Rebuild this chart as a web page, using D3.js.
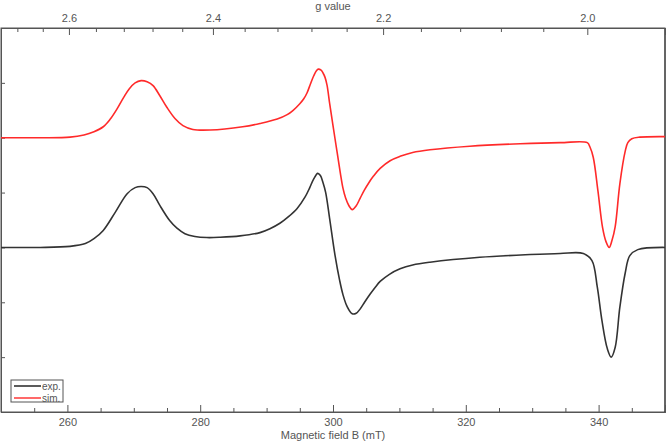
<!DOCTYPE html>
<meta charset="utf-8">
<style>
  body { margin: 0; background: #fff; }
  text { font-family: "Liberation Sans", Arial, sans-serif; fill: #555; }
  .axis path, .axis line { stroke: #555; }
</style>
<body>
<script src="https://d3js.org/d3.v7.min.js"></script>
<script>
// magnetic field (mT) and intensities relative to each trace's baseline
var simField = [250.0, 255.9, 260.4, 262.5, 264.0, 265.4, 266.4, 267.5, 268.5, 269.3, 270.2, 271.1, 272.0,
  272.9, 273.9, 275.0, 276.2, 277.4, 278.9, 281.5, 286.4, 289.0, 291.6, 293.1, 294.0, 295.0, 295.6, 296.1,
  296.6, 297.1, 297.5, 297.8, 298.2, 298.5, 298.8, 299.1, 299.5, 300.0, 300.6, 301.1, 301.5, 301.9, 302.4,
  302.9, 303.5, 304.1, 304.7, 305.4, 306.1, 307.1, 308.6, 310.1, 312.0, 314.6, 320.6, 328.2, 334.2, 338.3,
  338.7, 339.2, 339.9, 340.6, 341.1, 341.6, 342.0, 342.5, 343.2, 344.0, 344.4, 345.0, 346.2, 350.0];
var simValue = [0, 0, 0.01, 0.05, 0.11, 0.20, 0.33, 0.53, 0.74, 0.89, 1.00, 1.04, 1.02,
  0.95, 0.77, 0.55, 0.35, 0.22, 0.15, 0.14, 0.20, 0.26, 0.34, 0.42, 0.50, 0.62, 0.71, 0.82,
  0.98, 1.13, 1.22, 1.25, 1.23, 1.18, 1.10, 0.96, 0.62, 0.22, -0.25, -0.64, -0.92, -1.10, -1.24,
  -1.31, -1.24, -1.10, -0.96, -0.82, -0.70, -0.56, -0.42, -0.34, -0.27, -0.22, -0.155, -0.11, -0.09, -0.09,
  -0.17, -0.36, -0.97, -1.64, -1.89, -2.0, -1.88, -1.62, -0.84, -0.25, -0.09, -0.02, 0.01, 0.02];

var expField = [250.0, 255.9, 260.4, 262.7, 264.0, 265.4, 267.2, 269.0, 270.2, 271.1, 272.0, 272.9, 273.9,
  275.4, 276.5, 277.7, 279.2, 281.0, 283.0, 286.0, 289.0, 290.5, 292.0, 293.3, 294.6, 295.8, 296.5, 297.1,
  297.7, 298.1, 298.5, 298.9, 299.5, 300.3, 301.0, 301.5, 302.1, 302.9, 303.5, 304.1, 304.8, 305.6, 306.4,
  307.1, 308.5, 310.1, 312.0, 314.6, 322.1, 329.7, 334.2, 337.7, 339.0, 339.8, 340.5, 341.3, 341.9, 342.5,
  343.2, 344.0, 344.7, 345.9, 350.0];
var expValue = [0, 0, 0.02, 0.07, 0.16, 0.31, 0.64, 0.98, 1.09, 1.11, 1.09, 0.98, 0.77,
  0.49, 0.35, 0.25, 0.20, 0.18, 0.185, 0.21, 0.27, 0.34, 0.44, 0.56, 0.71, 0.92, 1.09, 1.25,
  1.35, 1.31, 1.18, 1.00, 0.52, -0.14, -0.60, -0.86, -1.07, -1.21, -1.20, -1.12, -0.99, -0.85, -0.72,
  -0.62, -0.49, -0.39, -0.32, -0.27, -0.18, -0.13, -0.11, -0.11, -0.24, -0.72, -1.33, -1.84, -2.00, -1.82,
  -1.09, -0.47, -0.15, -0.04, 0];

var simOffset = 5, expOffset = 3;

// axis ticks
var fieldMajor = [260, 280, 300, 320, 340];
var fieldMinor = [255, 265, 270, 275, 285, 290, 295, 305, 310, 315, 325, 330, 335, 345];
var gMajor = [2.6, 2.4, 2.2, 2.0];
var gMinor = [2.68, 2.64, 2.56, 2.52, 2.48, 2.44, 2.36, 2.32, 2.28, 2.24, 2.16, 2.12, 2.08, 2.04];
var yTicks = [1, 2, 3, 4, 5, 6];
var hvOverMuB = 676.6; // mT, B = hv/(g muB)

var margin = {top: 28, right: 1, bottom: 30, left: 1},
    width = 666 - margin.left - margin.right,
    height = 442 - margin.top - margin.bottom;

var x = d3.scaleLinear().domain([250, 350]).range([0, width]);
var y = d3.scaleLinear().domain([0, 7]).range([height, 0]);

var svg = d3.select("body").append("svg")
    .attr("width", 666)
    .attr("height", 442)
  .append("g")
    .attr("transform", "translate(" + margin.left + "," + margin.top + ")");

// frame
svg.append("rect")
  .attr("width", width).attr("height", height)
  .attr("fill", "none").attr("stroke", "#555");
svg.append("line")
  .attr("x1", width).attr("x2", width).attr("y1", 0).attr("y2", height)
  .attr("stroke", "#222");

// bottom axis
svg.append("g").attr("class", "axis")
  .attr("transform", "translate(0," + height + ")")
  .call(d3.axisBottom(x).tickValues(fieldMajor).tickSize(-7).tickPadding(6))
  .call(g => g.selectAll("text").attr("font-size", 11));
svg.append("g").attr("class", "axis")
  .attr("transform", "translate(0," + height + ")")
  .call(d3.axisBottom(x).tickValues(fieldMinor).tickSize(-4).tickFormat(""));

// top axis in g value: position of g is x(hv / (g muB))
var gScale = function(g) { return x(hvOverMuB / g); };
gScale.copy = function() { return gScale; };
gScale.range = function() { return x.range(); };
gScale.domain = function() { return [hvOverMuB / 250, hvOverMuB / 350]; };
svg.append("g").attr("class", "axis")
  .call(d3.axisTop(gScale).tickValues(gMajor).tickSize(-7).tickPadding(6).tickFormat(d3.format(".1f")))
  .call(g => g.selectAll("text").attr("font-size", 11));
svg.append("g").attr("class", "axis")
  .call(d3.axisTop(gScale).tickValues(gMinor).tickSize(-4).tickFormat(""));

// left axis
svg.append("g").attr("class", "axis")
  .call(d3.axisLeft(y).tickValues(yTicks).tickSize(-4).tickFormat(""));

// traces
function trace(field, values, offset, color) {
  var pts = field.map(function(b, i) { return [b, values[i] + offset]; });
  svg.append("path")
    .datum(pts)
    .attr("fill", "none")
    .attr("stroke", color)
    .attr("stroke-width", 1.6)
    .attr("d", d3.line()
      .x(function(d) { return x(d[0]); })
      .y(function(d) { return y(d[1]); })
      .curve(d3.curveCatmullRom.alpha(0.5)));
}
trace(expField, expValue, expOffset, "#333");
trace(simField, simValue, simOffset, "#ff2a2a");

// axis titles
svg.append("text")
  .attr("x", width / 2).attr("y", -18)
  .attr("text-anchor", "middle").attr("font-size", 11)
  .text("g value");
svg.append("text")
  .attr("x", width / 2).attr("y", height + 27)
  .attr("text-anchor", "middle").attr("font-size", 11)
  .text("Magnetic field B (mT)");

// legend
var legend = svg.append("g").attr("transform", "translate(10," + (height - 32) + ")");
legend.append("rect")
  .attr("width", 52).attr("height", 22)
  .attr("fill", "#fff").attr("stroke", "#555");
[["exp.", "#333"], ["sim.", "#ff4444"]].forEach(function(d, i) {
  var yy = 6 + i * 12;
  legend.append("line")
    .attr("x1", 3).attr("x2", 30).attr("y1", yy).attr("y2", yy)
    .attr("stroke", d[1]).attr("stroke-width", 1.6);
  legend.append("text")
    .attr("x", 31).attr("y", yy + 3.5)
    .attr("font-size", 10)
    .text(d[0]);
});
</script>
</body>
